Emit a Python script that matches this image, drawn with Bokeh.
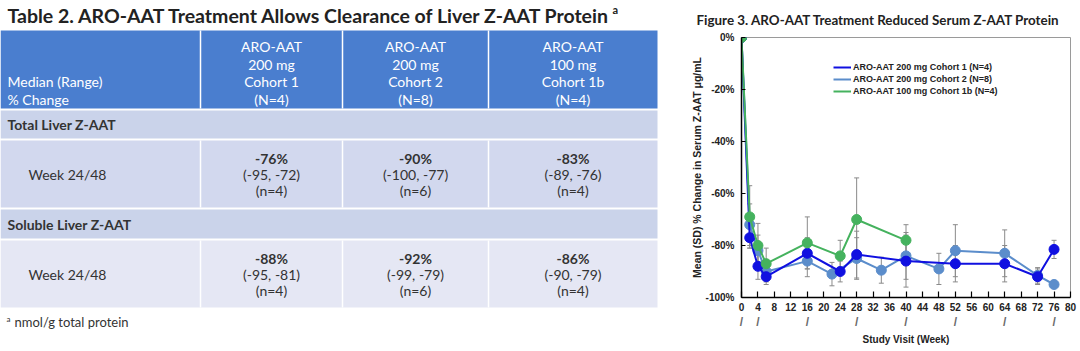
from bokeh.plotting import figure
from bokeh.layouts import row
from bokeh.models import (Range1d, ColumnDataSource, Whisker, TeeHead, Legend,
                          LegendItem, FixedTicker, LinearAxis)
from bokeh.core.properties import value
from bokeh.embed import file_html
from bokeh.resources import INLINE

# ---------------- table data ----------------
table_title = "Table 2. ARO-AAT Treatment Allows Clearance of Liver Z-AAT Protein"
row_header = ["Median (Range)", "% Change"]
col_headers = [["ARO-AAT", "200 mg", "Cohort 1", "(N=4)"],
               ["ARO-AAT", "200 mg", "Cohort 2", "(N=8)"],
               ["ARO-AAT", "100 mg", "Cohort 1b", "(N=4)"]]
sections = ["Total Liver Z-AAT", "Soluble Liver Z-AAT"]
timepoints = ["Week 24/48", "Week 24/48"]
medians = [["-76%", "-90%", "-83%"], ["-88%", "-92%", "-86%"]]
ranges = [["(-95, -72)", "(-100, -77)", "(-89, -76)"],
          ["(-95, -81)", "(-99, -79)", "(-90, -79)"]]
counts = [["(n=4)", "(n=6)", "(n=4)"], ["(n=4)", "(n=6)", "(n=4)"]]
footnote = "nmol/g total protein"

# ---------------- chart data ----------------
chart_title = "Figure 3. ARO-AAT Treatment Reduced Serum Z-AAT Protein"
series_names = ["ARO-AAT 200 mg Cohort 1 (N=4)",
                "ARO-AAT 200 mg Cohort 2 (N=8)",
                "ARO-AAT 100 mg Cohort 1b (N=4)"]
weeks_c1 = [0, 2, 4, 6, 16, 24, 28, 40, 52, 64, 72, 76]
mean_c1 = [0, -77, -88, -92, -83, -90, -83.5, -86, -87, -87, -92, -81.5]
sd_c1 = [0, 4, 5, 3, 6, 4, 9, 10, 7, 7, 3, 3.5]
weeks_c2 = [0, 2, 4, 6, 16, 22, 28, 34, 40, 48, 52, 64, 72, 76]
mean_c2 = [0, -72, -82, -90, -86, -91, -85, -89.5, -84, -89, -82, -83, -91.5, -95]
sd_c2 = [0, 8, 6, 4, 6, 4.5, 8, 5, 9, 6, 10, 9, 3, 1]
weeks_c1b = [0, 2, 4, 6, 16, 24, 28, 40]
mean_c1b = [0, -69, -80, -87, -79, -84, -70, -78]
sd_c1b = [0, 12, 8.5, 6, 10, 6, 16, 6]
dose_weeks = [0, 4, 16, 28, 40, 52, 64, 76]
dose_mark = "/"
x_ticks = list(range(0, 81, 4))
y_ticks = [0, -20, -40, -60, -80, -100]
y_tick_labels = ["0%", "-20%", "-40%", "-60%", "-80%", "-100%"]
x_label = "Study Visit (Week)"
y_label = "Mean (SD) % Change in Serum Z-AAT \u03bcg/mL"

# ================= left: table =================
W_T, H = 680, 351
t = figure(frame_width=W_T, frame_height=H, x_range=Range1d(0, W_T), y_range=Range1d(H, 0),
           output_backend="svg", toolbar_location=None, min_border=0, frame_align=False)
t.axis.visible = False
t.grid.visible = False
t.outline_line_color = None

FONT = value("Lato")
DARK = "#333333"
col_edges = [0, 200, 342, 488, 657]
HEAD = (30, 108)
SEC = [(110, 138), (209, 238)]
WEEK = [(140, 207), (240, 307)]
HEAD_BLUE = "#4A7ECF"
SEC_FILL = "#CAD3EA"
WEEK_FILL = ["#D2D8EE", "#E5E7F4"]

# title
t.text(x=[7], y=[15], text=[table_title], text_font=FONT, text_font_size="19.5px",
       text_font_style="bold", text_color="#222222", text_baseline="middle")
t.text(x=[612], y=[9], text=["a"], text_font=FONT, text_font_size="11px",
       text_font_style="bold", text_color="#222222", text_baseline="middle")

# header band
t.quad(left=[col_edges[0]], right=[col_edges[-1]], top=[HEAD[0]], bottom=[HEAD[1]],
       fill_color=HEAD_BLUE, line_color=None)
t.segment(x0=col_edges[1:-1], x1=col_edges[1:-1], y0=[HEAD[0]] * 3, y1=[HEAD[1]] * 3,
          line_color="white", line_width=1.5)
line_ys = [46, 64, 81, 99]
for i, lines in enumerate(col_headers):
    cx = (col_edges[i + 1] + col_edges[i + 2]) / 2
    t.text(x=[cx] * 4, y=line_ys, text=lines, text_font=FONT, text_font_size="14px",
           text_color="white", text_align="center", text_baseline="middle")
t.text(x=[7, 7], y=line_ys[2:], text=row_header, text_font=FONT, text_font_size="14px",
       text_color="white", text_baseline="middle")

for k in range(2):
    s0, s1 = SEC[k]
    w0, w1 = WEEK[k]
    t.quad(left=[col_edges[0]], right=[col_edges[-1]], top=[s0], bottom=[s1],
           fill_color=SEC_FILL, line_color=None)
    t.text(x=[7], y=[(s0 + s1) / 2], text=[sections[k]], text_font=FONT,
           text_font_size="14px", text_font_style="bold", text_color=DARK,
           text_baseline="middle")
    t.quad(left=[col_edges[0]], right=[col_edges[-1]], top=[w0], bottom=[w1],
           fill_color=WEEK_FILL[k], line_color=None)
    t.segment(x0=col_edges[1:-1], x1=col_edges[1:-1], y0=[w0] * 3, y1=[w1] * 3,
              line_color="white", line_width=1.5)
    cy = (w0 + w1) / 2
    t.text(x=[28], y=[cy], text=[timepoints[k]], text_font=FONT, text_font_size="14px",
           text_color=DARK, text_baseline="middle")
    cxs = [(col_edges[i] + col_edges[i + 1]) / 2 for i in range(1, 4)]
    t.text(x=cxs, y=[cy - 16] * 3, text=medians[k], text_font=FONT, text_font_size="14px",
           text_font_style="bold", text_color=DARK, text_align="center", text_baseline="middle")
    t.text(x=cxs, y=[cy] * 3, text=ranges[k], text_font=FONT, text_font_size="14px",
           text_color=DARK, text_align="center", text_baseline="middle")
    t.text(x=cxs, y=[cy + 16] * 3, text=counts[k], text_font=FONT, text_font_size="14px",
           text_color=DARK, text_align="center", text_baseline="middle")

t.text(x=[6], y=[318], text=["a"], text_font=FONT, text_font_size="8px", text_color=DARK,
       text_baseline="middle")
t.text(x=[14], y=[321], text=[footnote], text_font=FONT, text_font_size="13px",
       text_color=DARK, text_baseline="middle")

# ================= right: chart =================
FW, FH = 329, 260
p = figure(frame_width=FW, frame_height=FH, min_border_left=61, min_border_right=10,
           min_border_top=37, min_border_bottom=54, frame_align=False,
           x_range=Range1d(0, 80), y_range=Range1d(-100, 0),
           output_backend="svg", toolbar_location=None)
p.grid.visible = False
p.outline_line_color = "#9a9a9a"
p.outline_line_width = 1

p.title.text = chart_title
p.title.text_font = "Lato"
p.title.text_font_size = "13.4px"
p.title.text_font_style = "bold"
p.title.text_color = "#222222"
p.title.align = "left"
p.title.offset = -45
p.title.standoff = 19

AX_FONT = "Liberation Sans"
p.xaxis.ticker = FixedTicker(ticks=x_ticks)
p.yaxis.ticker = FixedTicker(ticks=y_ticks)
p.yaxis.major_label_overrides = {tk: lab for tk, lab in zip(y_ticks, y_tick_labels)}
for ax in (p.xaxis, p.yaxis):
    ax.axis_line_color = "black"
    ax.axis_line_width = 1.5
    ax.major_tick_line_color = "black"
    ax.major_tick_line_width = 1.2
    ax.minor_tick_line_color = None
    ax.major_tick_out = 0
    ax.major_label_text_font = AX_FONT
    ax.major_label_text_font_style = "bold"
    ax.major_label_text_font_size = "10px"
    ax.major_label_text_color = "#222222"
    ax.axis_label_text_font = AX_FONT
    ax.axis_label_text_font_style = "bold"
    ax.axis_label_text_font_size = "10px"
    ax.axis_label_text_color = "#222222"
p.yaxis.axis_label_text_font_size = "10.5px"
p.xaxis.major_tick_in = 6
p.yaxis.major_tick_in = 4
p.xaxis.major_label_standoff = 5
p.yaxis.major_label_standoff = 7
p.yaxis.axis_label = y_label
p.yaxis.axis_label_standoff = 0

# second "axis" below carrying the dosing marks and the x-axis title
dose_axis = LinearAxis(ticker=FixedTicker(ticks=dose_weeks),
                       major_label_overrides={w: dose_mark for w in dose_weeks},
                       axis_line_color=None, major_tick_in=0, major_tick_out=0,
                       minor_tick_line_color=None, major_tick_line_color=None,
                       major_label_standoff=1,
                       major_label_text_font="Liberation Sans",
                       major_label_text_font_size="12px",
                       major_label_text_font_style="bold",
                       major_label_text_color="#6a6a6a",
                       axis_label=x_label, axis_label_standoff=2,
                       axis_label_text_font=AX_FONT, axis_label_text_font_style="bold",
                       axis_label_text_font_size="10px", axis_label_text_color="#222222")
p.add_layout(dose_axis, "below")

colors = ["#1010E0", "#5B8DCB", "#45B25E"]
data = [(weeks_c1, mean_c1, sd_c1), (weeks_c2, mean_c2, sd_c2), (weeks_c1b, mean_c1b, sd_c1b)]

# error bars
for (wk, mn, sd) in data:
    xs = [w for w, s in zip(wk, sd) if s > 0]
    up = [m + s for m, s in zip(mn, sd) if s > 0]
    lo = [m - s for m, s in zip(mn, sd) if s > 0]
    src = ColumnDataSource(dict(x=xs, upper=up, lower=lo))
    wsk = Whisker(source=src, base="x", upper="upper", lower="lower",
                  line_color="#8a8a8a", line_width=1, level="underlay",
                  upper_head=TeeHead(size=5, line_color="#8a8a8a", line_width=1),
                  lower_head=TeeHead(size=5, line_color="#8a8a8a", line_width=1))
    p.add_layout(wsk)

draw_order = [1, 0, 2]
items = {}
for i in draw_order:
    wk, mn, sd = data[i]
    lr = p.line(wk, mn, line_color=colors[i], line_width=2)
    p.scatter(wk, mn, size=10, fill_color=colors[i], line_color=colors[i])
    dot = p.scatter(x=[], y=[], size=5, fill_color=colors[i], line_color=colors[i])
    items[i] = LegendItem(label=series_names[i], renderers=[lr, dot])

legend = Legend(items=[items[0], items[1], items[2]], location=(92, 200),
                border_line_color=None, background_fill_alpha=0,
                label_text_font=AX_FONT, label_text_font_style="bold",
                label_text_font_size="9px", label_text_color="#222222",
                glyph_width=18, glyph_height=12, label_height=12,
                spacing=0, padding=2, margin=0, label_standoff=2)
p.add_layout(legend)

layout = row(t, p)
open("out.html", "w").write(file_html(layout, INLINE))
